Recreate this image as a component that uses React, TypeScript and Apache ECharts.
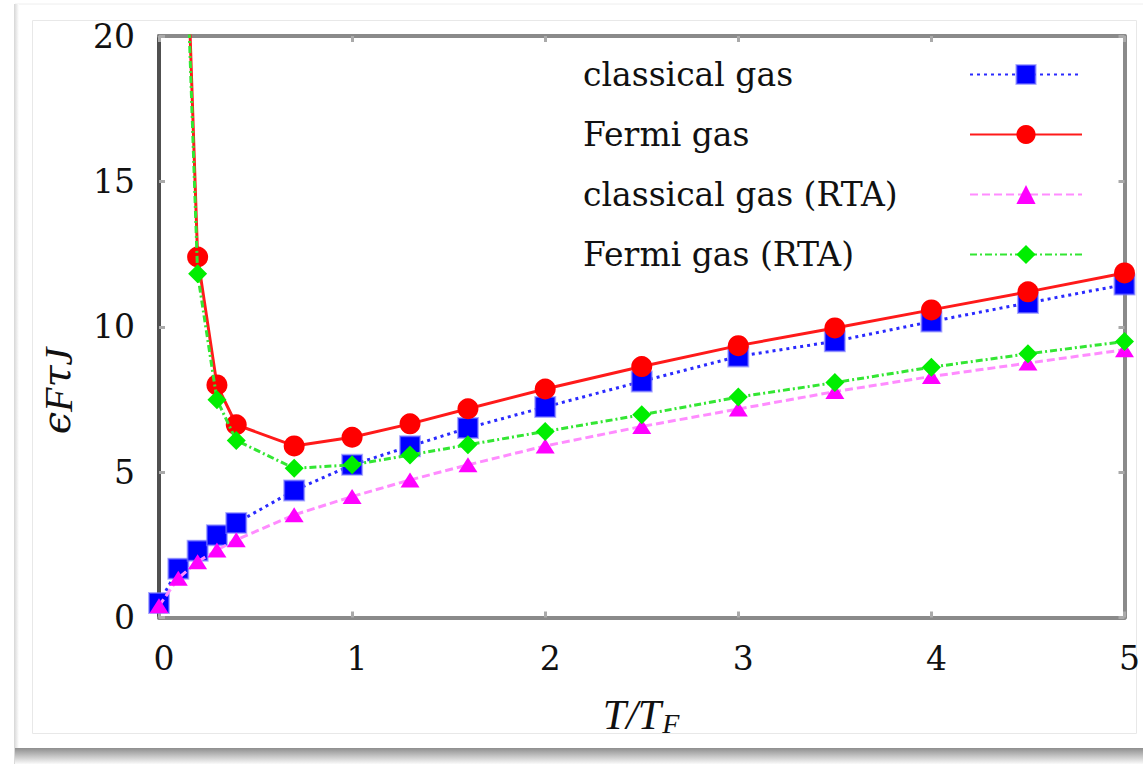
import React, { useEffect, useRef } from "react";
import * as echarts from "echarts";

const xClassical = [0, 0.1, 0.2, 0.3, 0.4, 0.7, 1.0, 1.3, 1.6, 2.0, 2.5, 3.0, 3.5, 4.0, 4.5, 5.0];
const classicalGas = [0.5, 1.68, 2.3, 2.83, 3.25, 4.37, 5.25, 5.89, 6.52, 7.24, 8.12, 8.98, 9.5, 10.18, 10.82, 11.45];
const classicalGasRTA = [0.4, 1.35, 1.92, 2.32, 2.67, 3.53, 4.16, 4.73, 5.25, 5.9, 6.57, 7.17, 7.77, 8.29, 8.75, 9.21];

const xFermi = [0.1, 0.2, 0.3, 0.4, 0.7, 1.0, 1.3, 1.6, 2.0, 2.5, 3.0, 3.5, 4.0, 4.5, 5.0];
const fermiGas = [32, 12.4, 8.0, 6.63, 5.9, 6.2, 6.66, 7.18, 7.86, 8.63, 9.35, 9.96, 10.58, 11.2, 11.85];
const fermiGasRTA = [31, 11.82, 7.49, 6.09, 5.13, 5.25, 5.59, 5.94, 6.4, 6.97, 7.58, 8.08, 8.61, 9.07, 9.49];

const seriesNames = ["classical gas", "Fermi gas", "classical gas (RTA)", "Fermi gas (RTA)"];
const xTicks = [0, 1, 2, 3, 4, 5];
const yTicks = [0, 5, 10, 15, 20];

const SERIF = "DejaVu Serif";
const ITALIC = "Liberation Serif";

const pairs = (xs: number[], ys: number[]) => xs.map((x, i) => [x, ys[i]]);

export default function App() {
  const ref = useRef<HTMLDivElement>(null);
  useEffect(() => {
    if (!ref.current) return;
    const chart = echarts.init(ref.current, undefined, { renderer: "svg" });
    const axisCommon = {
      type: "value" as const,
      splitLine: { show: false },
    };
    const tickStyle = { inside: true, length: 6, lineStyle: { color: "#aaaaaa", width: 3 } };
    const option: any = {
      animation: false,
      backgroundColor: "#ffffff",
      grid: { left: 159, right: 16, top: 36, bottom: 147.5, containLabel: false },
      xAxis: [
        {
          ...axisCommon,
          min: xTicks[0],
          max: xTicks[xTicks.length - 1],
          interval: 1,
          position: "bottom",
          axisLine: { show: true, onZero: false, lineStyle: { color: "#8a8a8a", width: 4 } },
          axisTick: tickStyle,
          axisLabel: {
            margin: 24,
            fontFamily: SERIF,
            fontSize: 33,
            color: "#111",
            padding: [0, 0, 0, 10],
            showMinLabel: true,
            showMaxLabel: true,
          },
        },
        {
          ...axisCommon,
          min: xTicks[0],
          max: xTicks[xTicks.length - 1],
          interval: 1,
          position: "top",
          axisLine: { show: true, onZero: false, lineStyle: { color: "#8a8a8a", width: 4 } },
          axisTick: tickStyle,
          axisLabel: { show: false },
        },
      ],
      yAxis: [
        {
          ...axisCommon,
          min: yTicks[0],
          max: yTicks[yTicks.length - 1],
          interval: 5,
          position: "left",
          axisLine: { show: true, onZero: false, lineStyle: { color: "#505050", width: 4 } },
          axisTick: tickStyle,
          axisLabel: {
            margin: 24,
            fontFamily: SERIF,
            fontSize: 33,
            color: "#111",
            padding: [0, 0, 4, 0],
            showMinLabel: true,
            showMaxLabel: true,
          },
        },
        {
          ...axisCommon,
          min: yTicks[0],
          max: yTicks[yTicks.length - 1],
          interval: 5,
          position: "right",
          axisLine: { show: true, onZero: false, lineStyle: { color: "#8a8a8a", width: 4 } },
          axisTick: tickStyle,
          axisLabel: { show: false },
        },
      ],
      legend: {
        data: seriesNames,
        orient: "vertical",
        left: 583,
        top: 58,
        padding: 0,
        itemGap: 27,
        itemWidth: 112,
        itemHeight: 24,
        align: "right",
        selectedMode: false,
        formatter: (n: string) => `{a|${n}}`,
        textStyle: {
          fontFamily: SERIF,
          fontSize: 33,
          color: "#111",
          rich: {
            a: {
              width: 382,
              align: "left",
              fontSize: 33,
              fontFamily: SERIF,
              color: "#111",
            },
          },
        },
      },
      series: [
        {
          name: seriesNames[0],
          type: "line",
          data: pairs(xClassical, classicalGas),
          symbol: "rect",
          symbolSize: 20,
          itemStyle: { color: "#0000ff", borderColor: "rgba(120,120,255,0.6)", borderWidth: 2 },
          lineStyle: { color: "#2a2aff", width: 3, type: [3, 4] },
          z: 2,
        },
        {
          name: seriesNames[1],
          type: "line",
          data: pairs(xFermi, fermiGas),
          symbol: "circle",
          symbolSize: 21,
          itemStyle: { color: "#ff0000" },
          lineStyle: { color: "#ff1a1a", width: 3, type: "solid" },
          z: 3,
        },
        {
          name: seriesNames[2],
          type: "line",
          data: pairs(xClassical, classicalGasRTA),
          symbol: "triangle",
          symbolSize: [19, 15],
          itemStyle: { color: "#ff00ff" },
          lineStyle: { color: "#ff8cff", width: 3, type: [8, 4] },
          z: 4,
        },
        {
          name: seriesNames[3],
          type: "line",
          data: pairs(xFermi, fermiGasRTA),
          symbol: "diamond",
          symbolSize: [19, 19],
          itemStyle: { color: "#00ee00" },
          lineStyle: { color: "#33e633", width: 3, type: [7, 3, 2, 3] },
          z: 5,
        },
      ],
      graphic: [
        {
          type: "rect",
          z: -100,
          silent: true,
          shape: { x: 15, y: 4, width: 1140, height: 746 },
          style: { fill: "#ffffff", stroke: "#eeeeee", lineWidth: 1 },
        },
        {
          type: "rect",
          z: -99,
          silent: true,
          shape: { x: 14, y: 4, width: 5, height: 760 },
          style: {
            fill: new echarts.graphic.LinearGradient(0, 0, 1, 0, [
              { offset: 0, color: "#d6d6d6" },
              { offset: 1, color: "#ffffff" },
            ]),
          },
        },
        {
          type: "rect",
          z: -99,
          silent: true,
          shape: { x: 15, y: 748, width: 1128, height: 16 },
          style: {
            fill: new echarts.graphic.LinearGradient(0, 0, 0, 1, [
              { offset: 0, color: "#8e8e8e" },
              { offset: 0.5, color: "#c4c4c4" },
              { offset: 1, color: "#fafafa" },
            ]),
          },
        },
        {
          type: "rect",
          z: -98,
          silent: true,
          shape: { x: 32.5, y: 20.5, width: 1104, height: 713 },
          style: { fill: "none", stroke: "#e8e8e8", lineWidth: 1 },
        },
        {
          type: "text",
          x: 641,
          y: 715,
          style: {
            text: "{i|T}{n|/}{i|T}{s|F}",
            align: "center",
            verticalAlign: "middle",
            rich: {
              i: { fontFamily: ITALIC, fontStyle: "italic", fontSize: 42, lineHeight: 44, verticalAlign: "middle", fill: "#111" },
              n: { fontFamily: ITALIC, fontStyle: "italic", fontSize: 42, lineHeight: 44, verticalAlign: "middle", fill: "#111" },
              s: { fontFamily: ITALIC, fontStyle: "italic", fontSize: 28, lineHeight: 28, verticalAlign: "bottom", fill: "#111", padding: [0, 0, 0, 1] },
            },
          },
        },
        {
          type: "text",
          x: 56,
          y: 391,
          rotation: Math.PI / 2,
          style: {
            text: "{e|ϵ}{s|F}{e|τ}{s|J}",
            align: "center",
            verticalAlign: "middle",
            rich: {
              e: { fontFamily: "DejaVu Serif", fontStyle: "italic", fontSize: 40, lineHeight: 44, verticalAlign: "middle", fill: "#111" },
              s: { fontFamily: ITALIC, fontStyle: "italic", fontSize: 40, lineHeight: 40, verticalAlign: "bottom", fill: "#111" },
            },
          },
        },
      ],
    };
    chart.setOption(option);
    return () => chart.dispose();
  }, []);
  return (
    <div
      ref={ref}
      style={{ position: "fixed", left: 0, top: 0, width: 1143, height: 765, background: "#fff" }}
    />
  );
}
